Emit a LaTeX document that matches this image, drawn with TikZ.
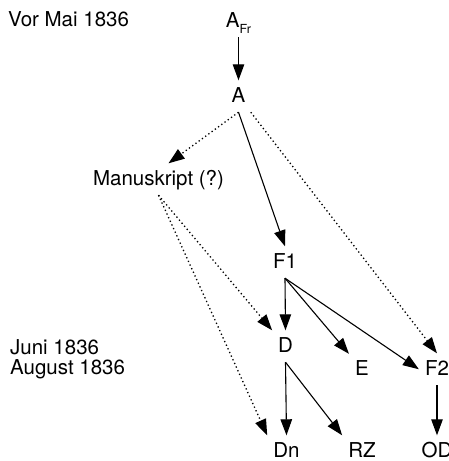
\documentclass[tikz,border=0pt]{standalone}
\usepackage{fontspec}
\setmainfont{TeX Gyre Heros}
\usetikzlibrary{arrows.meta}
\begin{document}
\begin{tikzpicture}[x=1pt,y=-1pt,
  every node/.style={font=\fontsize{20.5}{24}\selectfont},
  txt/.style={anchor=base, inner xsep=6pt, inner ysep=7pt, text height=14.5pt, text depth=3pt},
  lbl/.style={anchor=base west, inner sep=0pt},
  arr/.style={-{Triangle[length=16pt,width=11.5pt]}, line width=1.1pt},
  dot/.style={arr, line width=1.3pt, dash pattern=on 1.3pt off 2.7pt}]
\useasboundingbox (0,0) rectangle (449,461);
\node[lbl] (vor) at (8,26.5) {Vor Mai 1836};
\node[txt] (afr) at (238.5,27) {A\raisebox{-6pt}{\fontsize{12.5}{12.5}\selectfont Fr}};
\node[txt] (a) at (238.5,102) {A};
\node[txt] (manu) at (158.5,185) {Manuskript (?)};
\node[txt] (f1) at (285,268) {F1};
\node[txt] (d) at (285.5,352) {D};
\node[txt] (e) at (362,375) {E};
\node[txt] (f2) at (437,375) {F2};
\node[txt] (dn) at (286.5,457) {Dn};
\node[txt] (rz) at (362,457) {RZ};
\node[txt] (od) at (437,457) {OD};
\node[lbl] (juni) at (10,354) {Juni 1836};
\node[lbl] (aug) at (10,374) {August 1836};
\draw[arr] (afr) -- (a);
\draw[dot] (a.south) -- ([xshift=10pt]manu.north);
\draw[arr] (a.south) -- (f1.north);
\draw[dot] (a) -- (f2.north);
\draw[dot] (manu.south) -- (d);
\draw[dot] (manu.south) -- (dn.north west);
\draw[arr] (f1.south) -- (d.north);
\draw[arr] (f1.south) -- (e);
\draw[arr] (f1.south) -- (f2.west);
\draw[arr] (d.south) -- (dn.north);
\draw[arr] (d.south) -- (rz.north west);
\draw[arr] (f2.south) -- (od.north);
\end{tikzpicture}
\end{document}
